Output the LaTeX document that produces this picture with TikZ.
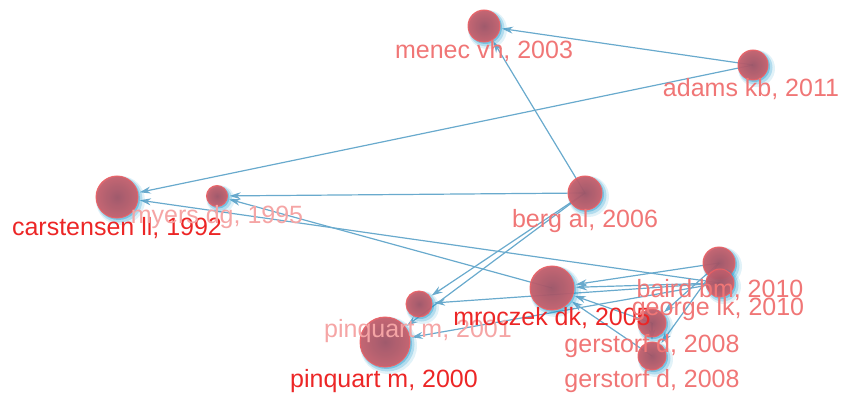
\documentclass[tikz,border=0pt]{standalone}
\usepackage{fontspec}
\setmainfont{Liberation Sans}
\usetikzlibrary{arrows.meta}
\definecolor{edgecol}{RGB}{105,170,205}
\definecolor{ballin}{RGB}{165,80,96}
\definecolor{ballout}{RGB}{205,92,104}
\definecolor{ballrim}{RGB}{236,96,100}
\definecolor{glowcol}{RGB}{10,145,200}
\definecolor{labpale}{RGB}{240,118,118}
\definecolor{labfaint}{RGB}{245,165,165}
\definecolor{labred}{RGB}{236,38,38}
\tikzset{
  hub/.style={circle,inner sep=0pt,minimum size=#1},
  link/.style={draw=edgecol,line width=1.2pt,-{Stealth[length=11pt,width=7pt]},shorten >=2pt},
  lab/.style={font=\fontsize{25}{25}\selectfont,anchor=base,inner sep=0pt},
  ballglowA/.style={fill=glowcol,opacity=0.12},
  ballglowB/.style={fill=glowcol,opacity=0.22},
  ballglowC/.style={fill=glowcol,opacity=0.35},
  ballbody/.style={inner color=ballin,outer color=ballout,opacity=0.9},
  ballline/.style={draw=ballrim,draw opacity=0.9,line width=1pt},
}
\newcommand\myball[2]{%
  \fill[ballglowA] ([shift={(3.5,3.5)}]#1.center) circle[radius={(#2+3.5)*1pt}];
  \fill[ballglowB] ([shift={(2.5,2.5)}]#1.center) circle[radius={(#2+2)*1pt}];
  \fill[ballglowC] ([shift={(1.5,1.5)}]#1.center) circle[radius={(#2+0.5)*1pt}];
  \shade[ballbody] (#1.center) circle[radius={#2*1pt}];
  \draw[ballline] (#1.center) circle[radius={#2*1pt}];
}
\begin{document}
\begin{tikzpicture}[x=1pt,y=-1pt]
\useasboundingbox (0,0) rectangle (841,393);
% hubs
\node[hub=32pt] (menec) at (484,26) {};
\node[hub=30pt] (adams) at (753,65) {};
\node[hub=42pt] (carst) at (117,197) {};
\node[hub=21pt] (myers) at (217,196) {};
\node[hub=34pt] (berg) at (585,193) {};
\node[hub=44pt] (mroc) at (552,288) {};
\node[hub=26pt] (pinB) at (419,304) {};
\node[hub=50pt] (pinA) at (385,342) {};
\node[hub=32pt] (baird) at (719,263) {};
\node[hub=28pt] (george) at (720,283) {};
\node[hub=28pt] (gerA) at (652,323) {};
\node[hub=28pt] (gerB) at (652,356) {};
% links
\draw[link] (adams.center) -- (menec);
\draw[link] (adams.center) -- (carst);
\draw[link] (berg.center) -- (menec);
\draw[link] (berg.center) -- (myers);
\draw[link] (berg.center) -- (pinB);
\draw[link] (berg.center) -- (pinA);
\draw[link] (mroc.center) -- (myers);
\draw[link] (george.center) -- (carst);
\draw[link] (george.center) -- (pinB);
\draw[link] (george.center) -- (pinA);
\draw[link] (baird.center) -- (mroc);
\draw[link] (george.center) -- (mroc);
\draw[link] (gerA.center) -- (mroc);
\draw[link] (gerB.center) -- (mroc);
\draw[link] (baird.center) -- (gerA);
\draw[link] (baird.center) -- (gerB);
\draw[link] (gerA.center) -- (gerB);
% balls
\myball{menec}{16}
\myball{adams}{15}
\myball{carst}{21}
\myball{myers}{10.5}
\myball{berg}{17}
\myball{mroc}{22}
\myball{pinB}{13}
\myball{pinA}{25}
\myball{baird}{16}
\myball{george}{14}
\myball{gerA}{14}
\myball{gerB}{14}
% labels
\node[lab,text=labpale] (menecL) at (484,59) {menec vh, 2003};
\node[lab,text=labpale] (adamsL) at (751,97) {adams kb, 2011};
\node[lab,text=labred] (carstL) at (117,235) {carstensen ll, 1992};
\node[lab,text=labfaint] (myersL) at (217,223) {myers dg, 1995};
\node[lab,text=labpale] (bergL) at (585,227) {berg al, 2006};
\node[lab,text=labfaint] (pinBL) at (418,337) {pinquart m, 2001};
\node[lab,text=labred] (mrocL) at (552,325) {mroczek dk, 2005};
\node[lab,text=labred] (pinAL) at (384,387) {pinquart m, 2000};
\node[lab,text=labpale] (bairdL) at (720,297) {baird bm, 2010};
\node[lab,text=labpale] (georgeL) at (718,315) {george lk, 2010};
\node[lab,text=labpale] (gerAL) at (652,352) {gerstorf d, 2008};
\node[lab,text=labpale] (gerBL) at (652,387) {gerstorf d, 2008};
\end{tikzpicture}
\end{document}
